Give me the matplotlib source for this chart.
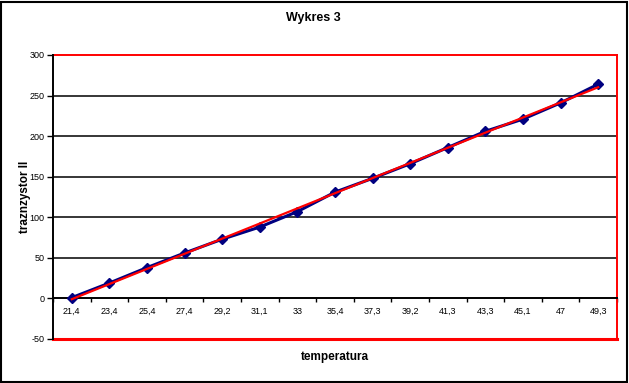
import numpy as np
import matplotlib
matplotlib.use("Agg")
import matplotlib.pyplot as plt
from matplotlib.patches import Rectangle

plt.rcParams['font.family'] = ['Liberation Sans', 'DejaVu Sans']
plt.rcParams['axes.unicode_minus'] = False

categories = ["21,4", "23,4", "25,4", "27,4", "29,2", "31,1", "33", "35,4",
              "37,3", "39,2", "41,3", "43,3", "45,1", "47", "49,3"]
values = [1, 19, 38, 56, 73, 88, 107, 131, 148, 166, 186, 206, 221, 241, 264]
title = "Wykres 3"
xlabel = "temperatura"
ylabel = "traznzystor II"

W, H = 629, 383
fig = plt.figure(figsize=(W / 100, H / 100), dpi=100)
fig.patch.set_facecolor('white')
# outer black frame
fig.add_artist(Rectangle((0.5 / W, 1.5 / H), (W - 3) / W, (H - 3) / H,
                         transform=fig.transFigure, fill=False,
                         edgecolor='black', linewidth=1.5))

left, right, top, bottom = 53, 617, 55, 339
ax = fig.add_axes([left / W, 1 - bottom / H, (right - left) / W, (bottom - top) / H])

x = np.arange(len(categories))
ax.plot(x, values, color='#000080', linewidth=2.2, marker='D', markersize=5,
        markeredgecolor='#000080', markerfacecolor='#000080', zorder=3)
coef = np.polyfit(x, values, 1)
ax.plot(x, np.polyval(coef, x), color='#ff0000', linewidth=1.6, zorder=4)

ax.set_xlim(-0.5, len(categories) - 0.5)
ax.set_ylim(-50, 300)
ax.set_yticks(np.arange(-50, 301, 50))
for yv in range(50, 300, 50):
    ax.axhline(yv, color='black', linewidth=1.1, zorder=1)

for s in ['top', 'right']:
    ax.spines[s].set_color('#ff0000')
    ax.spines[s].set_linewidth(1.4)
ax.spines['left'].set_color('black')
ax.spines['left'].set_linewidth(1.4)
ax.spines['left'].set_zorder(5)
ax.spines['bottom'].set_position(('data', 0))
ax.spines['bottom'].set_color('black')
ax.spines['bottom'].set_linewidth(1.4)
ax.axhline(-50, color='#ff0000', linewidth=2.2, zorder=2, clip_on=False)

ax.set_xticks(np.arange(-0.5, len(categories), 1.0))
ax.set_xticklabels([])
ax.tick_params(axis='x', which='major', length=3, width=1, direction='out', color='black')
ax.set_xticks(x, minor=True)
ax.set_xticklabels(categories, minor=True)
ax.tick_params(axis='x', which='minor', length=0, pad=6, labelsize=6.5)
ax.tick_params(axis='y', length=4, width=1, direction='out', labelsize=6.5, pad=2)

fig.text(25 / W, 1 - 197 / H, ylabel, ha='center', va='center', rotation=90,
         fontsize=8.5, fontweight='bold')
fig.text((left + right) / 2 / W, 1 - 357 / H, xlabel, ha='center', va='center',
         fontsize=8.5, fontweight='bold')
fig.text(313 / W, 1 - 18 / H, title, ha='center', va='center',
         fontsize=9, fontweight='bold')

fig.savefig('out.png', dpi=100)
